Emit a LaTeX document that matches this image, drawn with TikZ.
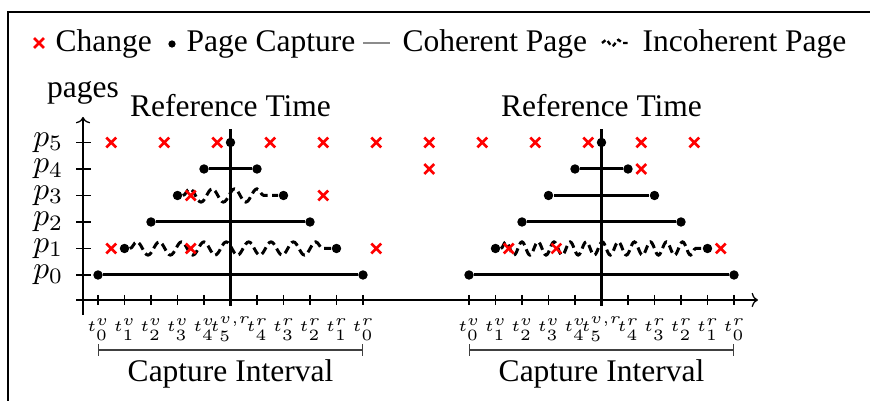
\documentclass[tikz,border=0pt]{standalone}
\usepackage{fontspec}
\setmainfont{Liberation Serif}
\usetikzlibrary{shapes.misc,decorations.pathmorphing,arrows.meta}
\DeclareMathSizes{5.5}{5.5}{3.8}{3}
\begin{document}
\scriptspace=0.2pt
\begin{tikzpicture}[x=0.3175pt,y=-0.3175pt,
  dot/.style={circle,fill=black,inner sep=0pt,minimum size=3pt},
  chg/.style={cross out,draw=red,line width=0.8pt,inner sep=0pt,minimum size=2.3pt},
  seg/.style={line width=0.95pt},
  wavy/.style={line width=0.95pt,dash pattern=on 2.5pt off 1.4pt,decorate,
     decoration={snake,amplitude=2.1pt,segment length=#1}},
  wavy/.default=7.1pt,
  txt/.style={inner sep=0pt,anchor=base},
  tl/.style={inner sep=0pt,anchor=base,font=\fontsize{5.5}{6.5}\selectfont},
  axisline/.style={line width=0.4pt,-{To[length=2pt,width=4.5pt]}},
  bracket/.style={line width=0.4pt,black!75,{Bar[width=3.8pt]}-{Bar[width=3.8pt]}}
]
\useasboundingbox (0,0) rectangle (870,401);
% frame
\coordinate (fr0) at (8,401); \coordinate (fr1) at (8,12); \coordinate (fr2) at (870,12);
\draw[line width=0.45pt] (fr0) -- (fr1) -- (fr2);
% legend
\node[chg] (lgchg) at (39,43) {};
\node[txt,anchor=base west] (lgchgt) at (55,52) {Change};
\node[dot,minimum size=2.3pt] (lgdot) at (172,44) {};
\node[txt,anchor=base west] (lgdott) at (186,52) {Page Capture};
\coordinate (lgcoh0) at (363,43); \coordinate (lgcoh1) at (390,43);
\draw[black!45,line width=0.7pt] (lgcoh0) -- (lgcoh1);
\node[txt,anchor=base west] (lgcoht) at (402,52) {Coherent Page};
\coordinate (lginc0) at (602,43); \coordinate (lginc1) at (628,43);
\draw[line width=0.75pt,dash pattern=on 1.4pt off 0.9pt,decorate,decoration={snake,amplitude=1pt,segment length=4pt}] (lginc0) -- (lginc1);
\node[txt,anchor=base west] (lginct) at (642,52) {Incoherent Page};
% axes
\coordinate (xa0) at (76,300); \coordinate (xa1) at (758,300);
\coordinate (ya0) at (83,315); \coordinate (ya1) at (83,117);
\draw[axisline] (xa0) -- (xa1);
\draw[axisline] (ya0) -- (ya1);
\node[txt] (pages) at (83,98) {pages};
\foreach \k in {0,...,5} {
  \draw[line width=0.4pt] (76,{275-26.5*\k}) -- (91,{275-26.5*\k});
  \node[inner sep=0pt,anchor=east] (pl\k) at (63,{275-26.5*\k}) {$p_{\k}$};
}
\foreach \i in {0,...,10,14,15,...,24} {
  \draw[line width=0.4pt] ({98+26.5*\i},295) -- ({98+26.5*\i},305);
}
\foreach \o/\n in {0/L,14/R} {
  \foreach \j in {0,...,4} {
    \node[tl] (tv\n\j) at ({98+26.5*(\o+\j)},332) {$t_{\j}^{v}$};
    \node[tl] (tr\n\j) at ({98+26.5*(\o+10-\j)},332) {$t_{\j}^{r}$};
  }
  \node[tl] (t5\n) at ({98+26.5*(\o+5)},332) {$t_{5}^{v,r}$};
  \node[txt] (ref\n) at ({98+26.5*(\o+5)},117) {Reference Time};
  \coordinate (ci\n0) at ({98+26.5*\o},350);
  \coordinate (ci\n1) at ({98+26.5*(\o+10)},350);
  \draw[bracket] (ci\n0) -- (ci\n1);
  \node[txt] (cit\n) at ({98+26.5*(\o+5)},382) {Capture Interval};
  \coordinate (rl\n0) at ({98+26.5*(\o+5)},306);
  \coordinate (rl\n1) at ({98+26.5*(\o+5)},129);
  \draw[seg] (rl\n0) -- (rl\n1);
  % dots
  \foreach \k in {0,...,4} {
    \node[dot] (d\n\k a) at ({98+26.5*(\o+\k)},{275-26.5*\k}) {};
    \node[dot] (d\n\k b) at ({98+26.5*(\o+10-\k)},{275-26.5*\k}) {};
  }
  \node[dot] (d\n5) at ({98+26.5*(\o+5)},142.5) {};
}
% left chart segments
\draw[seg] (dL0a) -- (dL0b);
\draw[wavy] (dL1a) -- (dL1b);
\draw[seg] (dL2a) -- (dL2b);
\draw[wavy,decoration={post length=4pt}] (dL3a) -- (dL3b);
\draw[seg] (dL4a) -- (dL4b);
% right chart segments
\draw[seg] (dR0a) -- (dR0b);
\draw[wavy=5.1pt] (dR1a) -- (dR1b);
\draw[seg] (dR2a) -- (dR2b);
\draw[seg] (dR3a) -- (dR3b);
\draw[seg] (dR4a) -- (dR4b);
% changes
\foreach \c in {0.5,2.5,4.5,6.5,8.5,10.5,12.5,14.5,16.5,18.5,20.5,22.5}
  \node[chg] (c5-\c) at ({98+26.5*\c},142.5) {};
\foreach \c in {12.5,20.5}
  \node[chg] (c4-\c) at ({98+26.5*\c},169) {};
\foreach \c in {3.5,8.5}
  \node[chg] (c3-\c) at ({98+26.5*\c},195.5) {};
\foreach \c in {0.5,3.5,10.5,15.5,17.3,23.5}
  \node[chg] (c1-\c) at ({98+26.5*\c},248.5) {};
\end{tikzpicture}
\end{document}
